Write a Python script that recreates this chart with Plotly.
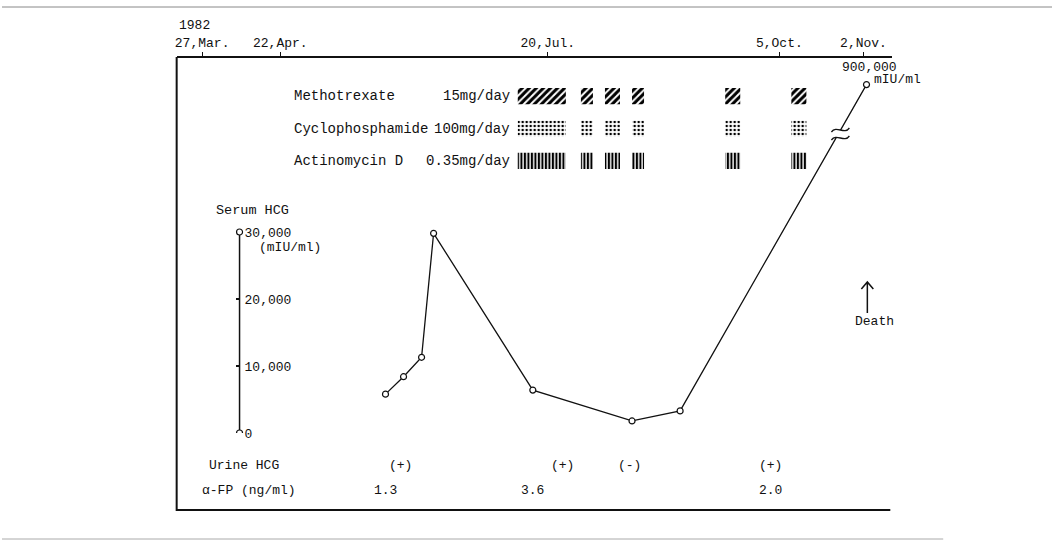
import plotly.graph_objects as go
from datetime import datetime, timedelta

W, H = 1052, 541
FIG_H = 550   # css height that lands on the 541-px screenshot

# ---------------- data ----------------
year_label = "1982"
tick_dates = ["1982-03-27", "1982-04-22", "1982-07-20", "1982-10-05", "1982-11-02"]
tick_labels = ["27,Mar.", "22,Apr.", "20,Jul.", "5,Oct.", "2,Nov."]

hcg_dates = ["1982-05-27", "1982-06-02", "1982-06-08", "1982-06-12",
             "1982-07-15", "1982-08-17", "1982-09-02", "1982-11-03"]
hcg_values = [5800, 8400, 11300, 29800, 6400, 1800, 3300, 900000]
hcg_tickvals = [0, 10000, 20000, 30000]
hcg_ticktext = ["0", "10,000", "20,000", "30,000"]

drugs = ["Methotrexate", "Cyclophosphamide", "Actinomycin D"]
doses = ["15mg/day", "100mg/day", "0.35mg/day"]
course_starts = ["1982-07-10", "1982-07-31", "1982-08-08", "1982-08-17", "1982-09-17", "1982-10-09"]
course_ends = ["1982-07-26", "1982-08-04", "1982-08-13", "1982-08-21", "1982-09-22", "1982-10-14"]

urine_dates = ["1982-06-01", "1982-07-25", "1982-08-16", "1982-10-02"]
urine_results = ["(+)", "(+)", "(-)", "(+)"]
afp_dates = ["1982-05-27", "1982-07-15", "1982-10-02"]
afp_values = ["1.3", "3.6", "2.0"]

# ---------------- layout helpers ----------------
FONT = "Liberation Mono"
INK = "#111111"


def fx(px):
    return px / W


def fy(py):
    return 1 - py / H


# date <-> pixel mapping of the hand-drawn time axis
ref_day = datetime(1982, 3, 27)
PX0, PX_PER_DAY = 200.5, 3.012
x_range = [ref_day + timedelta(days=(175 - PX0) / PX_PER_DAY),
           ref_day + timedelta(days=(892 - PX0) / PX_PER_DAY)]

HCG_AXIS_MAX = 30000
hcg_top = HCG_AXIS_MAX * (433 - 57) / (433 - 232)
BREAK_DISPLAY = 52000  # plotted level for off-scale values (broken axis)
hcg_plot = [v if v <= HCG_AXIS_MAX else BREAK_DISPLAY for v in hcg_values]

fig = go.Figure()

# treatment blocks
patterns = [dict(shape="/", size=5, solidity=0.6),
            dict(shape=".", size=4, solidity=0.32),
            dict(shape="|", size=3.5, solidity=0.6)]
starts = [datetime.fromisoformat(s) for s in course_starts]
ends = [datetime.fromisoformat(e) for e in course_ends]
durations = [(e - s).total_seconds() * 1000 for s, e in zip(starts, ends)]
for drug, pat in zip(drugs, patterns):
    fig.add_trace(go.Bar(
        orientation="h", y=[drug] * len(starts), base=course_starts, x=durations,
        xaxis="x", yaxis="y2", width=0.5, opacity=1,
        marker=dict(color="white", opacity=1, line=dict(width=0),
                    pattern=dict(fgcolor="#000000", bgcolor="white", fgopacity=1,
                                 fillmode="replace", **pat)),
        hoverinfo="skip"))

# serum HCG curve
fig.add_trace(go.Scatter(
    x=hcg_dates, y=hcg_plot, mode="lines+markers", xaxis="x", yaxis="y",
    line=dict(color=INK, width=1.3),
    marker=dict(symbol="circle", size=6, color="white", line=dict(color=INK, width=1.2)),
    cliponaxis=False, customdata=hcg_values, hovertemplate="%{x}: %{customdata}<extra></extra>"))

shapes = []
# frame
shapes.append(dict(type="line", xref="paper", yref="paper", x0=fx(175), x1=fx(175),
                   y0=fy(57), y1=fy(511), line=dict(color=INK, width=2)))
shapes.append(dict(type="line", xref="paper", yref="paper", x0=fx(175), x1=fx(890),
                   y0=fy(510), y1=fy(510), line=dict(color=INK, width=2)))
# scanned page edges
shapes.append(dict(type="line", xref="paper", yref="paper", x0=0, x1=1,
                   y0=fy(7), y1=fy(7), line=dict(color="#888888", width=1)))
shapes.append(dict(type="line", xref="paper", yref="paper", x0=0, x1=fx(943),
                   y0=fy(539), y1=fy(539), line=dict(color="#aaaaaa", width=1)))
# HCG axis line and end circles
shapes.append(dict(type="line", xref="paper", yref="y", x0=fx(238), x1=fx(238),
                   y0=0, y1=HCG_AXIS_MAX, line=dict(color=INK, width=1.5)))
for v in (0, HCG_AXIS_MAX):
    shapes.append(dict(type="circle", xref="paper", yref="y", xsizemode="pixel", ysizemode="pixel",
                       xanchor=fx(238), yanchor=v, x0=-3, x1=3, y0=-3, y1=3,
                       fillcolor="white", line=dict(color=INK, width=1.2), layer="above"))


def P(px, py):
    return f"{fx(px):.5f},{fy(py):.5f}"


# axis break on the last segment
bx, by = 840, 134
shapes.append(dict(type="path", xref="paper", yref="paper",
                   path=f"M {P(bx-9, by-4)} L {P(bx+9, by-4)} L {P(bx+9, by+4)} L {P(bx-9, by+4)} Z",
                   fillcolor="white", line=dict(width=0), layer="above"))
for dy in (-4, 4):
    cy = by + dy
    shapes.append(dict(type="path", xref="paper", yref="paper",
                       path=f"M {P(bx-9, cy+2)} C {P(bx-4, cy-5)} {P(bx+4, cy+5)} {P(bx+9, cy-2)}",
                       line=dict(color=INK, width=1.3), layer="above"))

# Death arrow
ax_ = 867
shapes.append(dict(type="path", xref="paper", yref="paper",
                   path=f"M {P(ax_, 313)} L {P(ax_, 282)} M {P(ax_-6, 289)} L {P(ax_, 282)} L {P(ax_+6, 289)}",
                   line=dict(color=INK, width=1.5)))

ann = []


def text(x, y, s, xanchor="left", size=13, xref="paper", yref="paper"):
    ann.append(dict(x=x, y=y, xref=xref, yref=yref, text=s, showarrow=False,
                    xanchor=xanchor, yanchor="middle", font=dict(family=FONT, size=size, color=INK)))


text(fx(175), fy(26), year_label)
for drug, dose in zip(drugs, doses):
    text(fx(291), drug, drug, yref="y2", size=14)
    text(fx(511), drug, dose, xanchor="right", yref="y2", size=14)
text(fx(212), fy(210), "Serum HCG", size=13.5)
text(fx(255), fy(247), "(mIU/ml)")
text(fx(840), fy(67), "900,000")
text(fx(872), fy(80), "mIU/ml")
text(fx(853), fy(321), "Death")
text(fx(205), fy(465), "Urine HCG")
text(fx(198), fy(490), "α-FP (ng/ml)")
for d, r in zip(urine_dates, urine_results):
    text(d, fy(465), r, xanchor="center", xref="x")
for d, v in zip(afp_dates, afp_values):
    text(d, fy(490), v, xanchor="center", xref="x")

fig.update_layout(
    width=W, height=FIG_H, margin=dict(l=0, r=0, t=0, b=0),
    paper_bgcolor="white", plot_bgcolor="rgba(0,0,0,0)", showlegend=False, barmode="overlay",
    font=dict(family=FONT, size=13, color=INK),
    xaxis=dict(type="date", domain=[fx(175), fx(892)], range=x_range, side="top",
               anchor="free", position=fy(57), showline=True, linecolor=INK, linewidth=1.5,
               ticks="outside", ticklen=4, tickcolor=INK, tickvals=tick_dates, ticktext=tick_labels,
               showgrid=False, zeroline=False, tickfont=dict(family=FONT, size=13, color=INK)),
    yaxis=dict(domain=[fy(433), fy(57)], range=[0, hcg_top], anchor="free", position=fx(238),
               side="right", showline=False, ticks="inside", ticklen=4, tickcolor=INK, tickwidth=1.5,
               tickvals=hcg_tickvals, ticktext=hcg_ticktext, ticklabelstandoff=4,
               showgrid=False, zeroline=False, tickfont=dict(family=FONT, size=13, color=INK)),
    yaxis2=dict(domain=[fy(177), fy(80)], type="category", categoryorder="array",
                categoryarray=drugs, range=[2.5, -0.5], visible=False, anchor="x"),
    annotations=ann, shapes=shapes,
)

fig.write_html("out.html", config={"displayModeBar": False},
               post_script="document.body.style.margin='0';"
                           "document.documentElement.style.overflow='hidden';")
